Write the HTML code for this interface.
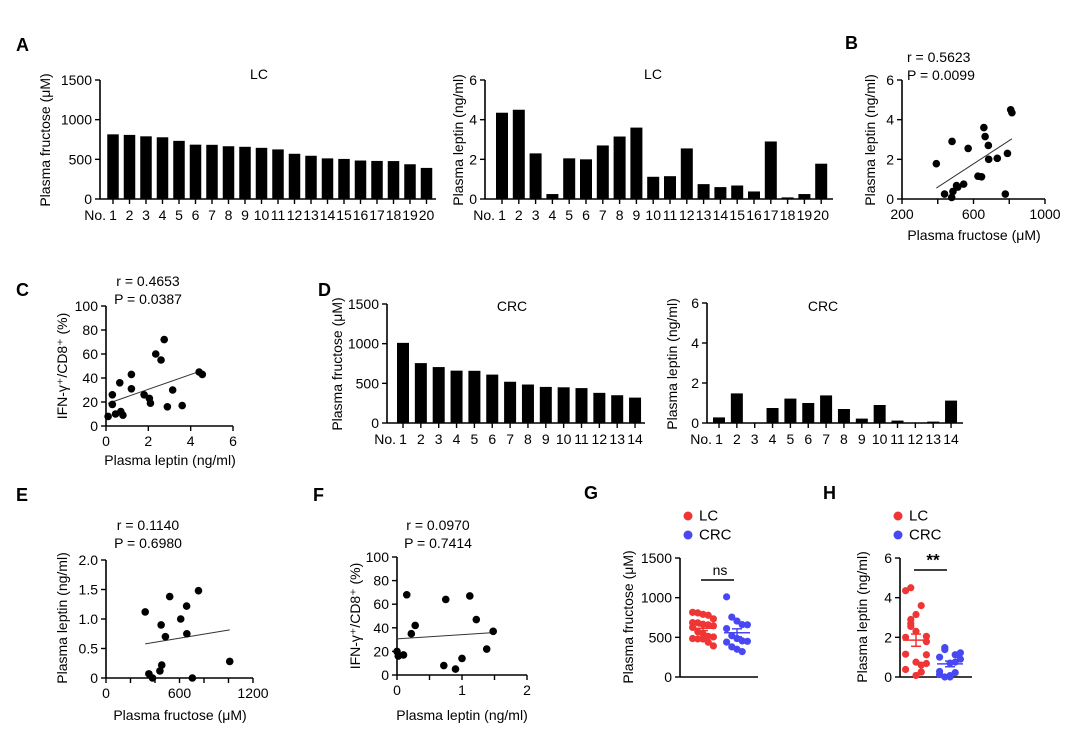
<!DOCTYPE html>
<html><head><meta charset="utf-8"><style>
html,body{margin:0;padding:0;background:#fff;}
svg{display:block;font-family:"Liberation Sans",Arial,sans-serif;}
</style></head><body>
<svg id="fig" width="1080" height="734" viewBox="0 0 1080 734"></svg>
<script>
// ---- data ----
const lcNo = ["1","2","3","4","5","6","7","8","9","10","11","12","13","14","15","16","17","18","19","20"];
const lcFructose = [815,808,790,778,733,685,683,665,658,645,625,570,545,512,505,485,480,478,438,392];
const lcLeptin = [4.35,4.5,2.3,0.25,2.05,2.0,2.7,3.15,3.6,1.12,1.15,2.55,0.75,0.6,0.68,0.38,2.9,0.08,0.25,1.78];
const crcNo = ["1","2","3","4","5","6","7","8","9","10","11","12","13","14"];
const crcFructose = [1010,755,705,660,658,610,520,485,455,450,440,380,350,320];
const crcLeptin = [0.28,1.48,0,0.75,1.22,1.0,1.38,0.7,0.22,0.9,0.12,0,0.07,1.12];
const cLeptin = [0.1,0.3,0.3,0.45,0.65,0.7,0.8,1.2,1.2,1.8,2.05,2.1,2.35,2.6,2.75,2.9,3.15,3.6,4.4,4.55];
const cIFN = [8,18,26,10,36,12,9,31,43,26,23,19,60,55,72,16,30,17,45,43];
const fLeptin = [0,0.02,0.1,0.15,0.22,0.28,0.72,0.75,0.9,1.0,1.12,1.22,1.38,1.48];
const fIFN = [20,16,17,68,35,42,8,64,5,14,67,47,22,37];
const fructoseTicks = [0,500,1000,1500];
const leptinTicks = [0,2,4,6];
const pctTicks = [0,20,40,60,80,100];
const eYTicks = ["0","0.5","1.0","1.5","2.0"];

const NS="http://www.w3.org/2000/svg";
const svg=document.getElementById('fig');
function el(tag,a,p){const e=document.createElementNS(NS,tag);for(const k in a)e.setAttribute(k,a[k]);(p||svg).appendChild(e);return e;}
function txt(x,y,s,o,p){o=o||{};const t=el('text',{x:x,y:y,'font-size':o.fs||14,'text-anchor':o.anchor||'middle','dominant-baseline':'central',fill:o.fill||'#000','font-weight':o.fw||'normal'},p);if(o.rot)t.setAttribute('transform','rotate(-90 '+x+' '+y+')');t.textContent=s;return t;}
function lin(d0,d1,r0,r1){return v=>r0+(v-d0)*(r1-r0)/(d1-d0);}
function grp(name){const g=el('g',{});return g;}

function yAxis(g,ax,sy,ticks,labels,xEnd,y0){
  el('line',{x1:ax,y1:sy(ticks[ticks.length-1]),x2:ax,y2:y0,stroke:'#000','stroke-width':1.6},g);
  el('line',{x1:ax,y1:y0,x2:xEnd,y2:y0,stroke:'#000','stroke-width':1.6},g);
  ticks.forEach((t,i)=>{const y=sy(t);el('line',{x1:ax-5,y1:y,x2:ax,y2:y,stroke:'#000','stroke-width':1.4},g);
    const l=txt(ax-8,y,labels?labels[i]:String(t),{anchor:'end'},g);
    });
}
function panelLetter(x,y,s){const t=txt(x,y,s,{fs:18,fw:'bold',anchor:'start'});}

function barChart(name,c,cats,vals,ticks){
  const g=grp(name);
  const sy=lin(0,ticks[ticks.length-1],c.y0,c.ytop);
  const sx=i=>c.bar1+i*c.step;
  yAxis(g,c.ax,sy,ticks,null,c.xend,c.y0);
  vals.forEach((v,i)=>{
    const r=el('rect',{x:sx(i)-c.bw/2,y:sy(v),width:c.bw,height:Math.max(0,c.y0-sy(v)),fill:'#000'},g);
    
    
    el('line',{x1:sx(i),y1:c.y0,x2:sx(i),y2:c.y0+5,stroke:'#000','stroke-width':1.4},g);
    const l=txt(sx(i),c.y0+16,cats[i],{},g);
    
  });
  const no=txt(sx(0)-7,c.y0+16,'No.',{anchor:'end'},g);
  
  const t=txt(c.tx,c.ty,c.title,{},g);
  const yt=txt(c.ytx,c.yty,c.ytitle,{rot:true},g);
}

function scatter(name,c,xs,ys){
  const g=grp(name);
  const sx=lin(c.xd0,c.xd1,c.x0,c.x1), sy=lin(0,c.ymax,c.y0,c.ytop);
  yAxis(g,c.x0,sy,c.yticks,c.ylabels,c.x1,c.y0);
  c.xminor.forEach(t=>el('line',{x1:sx(t),y1:c.y0,x2:sx(t),y2:c.y0+5,stroke:'#000','stroke-width':1.4},g));
  c.xticks.forEach(t=>{const l=txt(sx(t),c.y0+15,String(t),{},g);});
  const n=xs.length,mx=xs.reduce((a,b)=>a+b)/n,my=ys.reduce((a,b)=>a+b)/n;
  let sxy=0,sxx=0;xs.forEach((x,i)=>{sxy+=(x-mx)*(ys[i]-my);sxx+=(x-mx)*(x-mx);});
  const b=sxy/sxx,a=my-b*mx,xa=Math.min(...xs),xb=Math.max(...xs);
  const fl=el('line',{x1:sx(xa),y1:sy(a+b*xa),x2:sx(xb),y2:sy(a+b*xb),stroke:'#333','stroke-width':1},g);
  
  xs.forEach((x,i)=>{const p=el('circle',{cx:sx(x),cy:sy(ys[i]),r:3.8,fill:'#000'},g);
    });
  const r=txt(c.rx,c.ry,c.r,{anchor:c.ranchor||'middle'},g);
  const pv=txt(c.rx,c.ry+18,c.p,{anchor:c.ranchor||'middle'},g);
  const xt=txt(c.xtx,c.xty,c.xtitle,{},g);
  const yt=txt(c.ytx,c.yty,c.ytitle,{rot:true},g);
}

function dotPlot(name,c,a,b,ticks){
  const g=grp(name);
  const sy=lin(0,ticks[ticks.length-1],c.y0,c.ytop);
  yAxis(g,c.ax,sy,ticks,null,c.xend,c.y0);
  [[a,c.ca,'#f03535'],[b,c.cb,'#4848f2']].forEach(([vals,cx,col])=>{
    vals.forEach((v,i)=>{const off=((i%5)-2)*5.2;
      const p=el('circle',{cx:cx+off,cy:sy(v),r:3.6,fill:col},g);
      });
    const n=vals.length,m=vals.reduce((x,y)=>x+y)/n;
    const sd=Math.sqrt(vals.reduce((s,v)=>s+(v-m)*(v-m),0)/(n-1)),se=sd/Math.sqrt(n);
    el('line',{x1:cx-13,y1:sy(m),x2:cx+13,y2:sy(m),stroke:col,'stroke-width':1.5},g);
    el('line',{x1:cx,y1:sy(m-se),x2:cx,y2:sy(m+se),stroke:col,'stroke-width':1.5},g);
    el('line',{x1:cx-5,y1:sy(m-se),x2:cx+5,y2:sy(m-se),stroke:col,'stroke-width':1.5},g);
    el('line',{x1:cx-5,y1:sy(m+se),x2:cx+5,y2:sy(m+se),stroke:col,'stroke-width':1.5},g);
  });
  el('line',{x1:c.ca-2,y1:c.sigy,x2:c.cb-3,y2:c.sigy,stroke:'#000','stroke-width':1.6},g);
  const s=txt((c.ca+c.cb)/2,c.sigy-10,c.sig,{fs:c.sig=='**'?17:14,fw:c.sig=='**'?'bold':'normal'},g);
  
  const l1=el('circle',{cx:c.lx,cy:516,r:4.5,fill:'#f03535'},g);
  const t1=txt(c.lx+11,516,'LC',{anchor:'start',fs:15},g);
  const l2=el('circle',{cx:c.lx,cy:535,r:4.5,fill:'#4848f2'},g);
  const t2=txt(c.lx+11,535,'CRC',{anchor:'start',fs:15},g);
  const yt=txt(c.ytx,c.yty,c.ytitle,{rot:true},g);
}

// ---- panels ----
panelLetter(16,45,'A');panelLetter(845,43,'B');panelLetter(16,290,'C');panelLetter(318,290,'D');
panelLetter(16,495,'E');panelLetter(313,495,'F');panelLetter(584,493,'G');panelLetter(823,493,'H');

barChart('chart-a-lc-fructose',{ax:100,y0:199,ytop:80,bar1:113,step:16.5,bw:11.5,xend:436,title:'LC',tx:259,ty:74,ytitle:'Plasma fructose (μM)',ytx:45,yty:140},lcNo,lcFructose,fructoseTicks);
barChart('chart-a-lc-leptin',{ax:485,y0:199,ytop:80,bar1:502,step:16.8,bw:12,xend:833,title:'LC',tx:653,ty:74,ytitle:'Plasma leptin (ng/ml)',ytx:458,yty:140},lcNo,lcLeptin,leptinTicks);
scatter('chart-b-fructose-vs-leptin',{xd0:200,xd1:1000,x0:902,x1:1045,y0:199,ytop:80,ymax:6,yticks:leptinTicks,xticks:[200,600,1000],xminor:[200,400,600,800,1000],r:'r = 0.5623',p:'P = 0.0099',rx:907,ry:57,ranchor:'start',xtitle:'Plasma fructose (μM)',xtx:974,xty:235,ytitle:'Plasma leptin (ng/ml)',ytx:870,yty:140},lcFructose,lcLeptin);
scatter('chart-c-leptin-vs-ifn',{xd0:0,xd1:6,x0:106,x1:233,y0:426,ytop:306,ymax:100,yticks:pctTicks,xticks:[0,2,4,6],xminor:[0,2,4,6],r:'r = 0.4653',p:'P = 0.0387',rx:148,ry:281,xtitle:'Plasma leptin (ng/ml)',xtx:170,xty:460,ytitle:'IFN-γ⁺/CD8⁺ (%)',ytx:62,yty:366},cLeptin,cIFN);
barChart('chart-d-crc-fructose',{ax:387,y0:423,ytop:304,bar1:403,step:17.85,bw:12,xend:645,title:'CRC',tx:512,ty:306,ytitle:'Plasma fructose (μM)',ytx:337,yty:364},crcNo,crcFructose,fructoseTicks);
barChart('chart-d-crc-leptin',{ax:707,y0:423,ytop:303,bar1:719,step:17.85,bw:12,xend:963,title:'CRC',tx:823,ty:306,ytitle:'Plasma leptin (ng/ml)',ytx:672,yty:364},crcNo,crcLeptin,leptinTicks);
scatter('chart-e-fructose-vs-leptin',{xd0:0,xd1:1200,x0:106,x1:253,y0:678,ytop:560,ymax:2,yticks:[0,0.5,1,1.5,2],ylabels:eYTicks,xticks:[0,600,1200],xminor:[0,200,400,600,800,1000,1200],r:'r = 0.1140',p:'P = 0.6980',rx:148,ry:525,xtitle:'Plasma fructose (μM)',xtx:180,xty:715,ytitle:'Plasma leptin (ng/ml)',ytx:62,yty:618},crcFructose,crcLeptin);
scatter('chart-f-leptin-vs-ifn',{xd0:0,xd1:2,x0:397,x1:527,y0:675,ytop:557,ymax:100,yticks:pctTicks,xticks:[0,1,2],xminor:[0,0.5,1,1.5,2],r:'r = 0.0970',p:'P = 0.7414',rx:438,ry:525,xtitle:'Plasma leptin (ng/ml)',xtx:462,xty:715,ytitle:'IFN-γ⁺/CD8⁺ (%)',ytx:355,yty:616},fLeptin,fIFN);
dotPlot('chart-g-fructose-lc-vs-crc',{ax:680,y0:677,ytop:558,xend:758,ca:703,cb:737,sigy:580,sig:'ns',lx:688,ytitle:'Plasma fructose (μM)',ytx:628,yty:617},lcFructose,crcFructose,fructoseTicks);
dotPlot('chart-h-leptin-lc-vs-crc',{ax:900,y0:677,ytop:558,xend:972,ca:916,cb:950,sigy:570,sig:'**',lx:898,ytitle:'Plasma leptin (ng/ml)',ytx:862,yty:617},lcLeptin,crcLeptin,leptinTicks);
</script>
</body></html>
